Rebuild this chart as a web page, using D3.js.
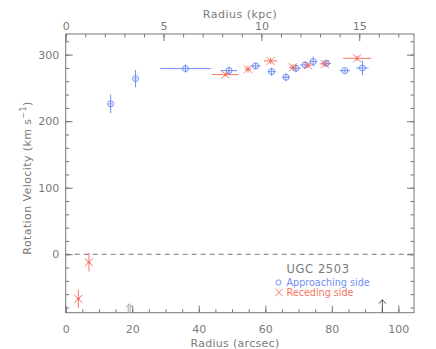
<!DOCTYPE html>
<html>
<head>
<meta charset="utf-8">
<script src="https://cdn.jsdelivr.net/npm/d3@7"></script>
<style>
  body { margin: 0; background: #fff; }
  svg text { font-family: "DejaVu Sans", sans-serif; fill: #7a7a7a; }
</style>
</head>
<body>
<svg id="chart" width="436" height="349"></svg>
<script>
// approaching side (blue circles)
const appR    = [13.5, 21.0, 36.0, 49.1, 57.1, 61.9, 66.2, 69.2, 72.0, 74.4, 78.3, 83.9, 89.2];
const appV    = [226, 264, 279, 276, 283, 274.5, 266, 279.5, 284.5, 289.5, 287, 276, 280];
const appRErr = [0.5, 0.5, 7.6, 2.5, 1.5, 1.2, 1.2, 1.5, 1.5, 1.2, 1.5, 1.5, 1.8];
const appVErr = [14, 13, 6, 6, 5, 6, 6, 6, 5, 7.5, 5, 3, 11];

// receding side (red asterisks)
const recR    = [3.8, 7.0, 48.0, 54.8, 61.6, 68.3, 72.8, 77.9, 87.6];
const recV    = [-67, -12, 270, 278, 290.5, 281, 284, 286, 294.5];
const recRErr = [0.5, 0.5, 4, 1, 2, 1, 1, 1.5, 4.2];
const recVErr = [14, 14, 3, 5, 5, 5, 4, 4, 4];

const kpcPerArcsec = 0.170;
const xTicks = [0, 20, 40, 60, 80, 100];
const kpcTicks = [0, 5, 10, 15];
const yTicks = [0, 100, 200, 300];
const arrowsAt = [19.1, 95.2];

const blue = "#6f8ff5", red = "#f47563", axisCol = "#777";
const fs = 11;

const svg = d3.select("#chart");
const x = d3.scaleLinear().domain([0, 104.7]).range([65.7, 414]);
const xk = d3.scaleLinear().domain([0, 104.7 * kpcPerArcsec]).range([65.7, 414]);
const y = d3.scaleLinear().domain([-87.8, 331]).range([312.7, 34]);

const x0 = x.range()[0], x1 = x.range()[1], y0 = y.range()[0], y1 = y.range()[1];

// frame
svg.append("rect")
  .attr("x", x0).attr("y", y1).attr("width", x1 - x0).attr("height", y0 - y1)
  .attr("fill", "none").attr("stroke", axisCol).attr("stroke-width", 1);

const styleAxis = g => {
  g.select(".domain").remove();
  g.selectAll("line").attr("stroke", axisCol);
  g.selectAll("text").attr("fill", "#7a7a7a").attr("font-size", fs)
    .attr("font-family", "DejaVu Sans, sans-serif");
};

// bottom axis
svg.append("g").attr("transform", `translate(0,${y0})`)
  .call(d3.axisBottom(x).tickValues(d3.range(0, 105, 5)).tickSize(-3.5).tickFormat(""))
  .call(styleAxis);
svg.append("g").attr("transform", `translate(0,${y0})`)
  .call(d3.axisBottom(x).tickValues(xTicks).tickSize(-7).tickPadding(12.5))
  .call(styleAxis);

// top axis (kpc)
svg.append("g").attr("transform", `translate(0,${y1})`)
  .call(d3.axisTop(xk).tickValues(d3.range(0, 18, 1)).tickSize(-3.5).tickFormat(""))
  .call(styleAxis);
svg.append("g").attr("transform", `translate(0,${y1})`)
  .call(d3.axisTop(xk).tickValues(kpcTicks).tickSize(-7).tickPadding(4))
  .call(styleAxis);

// left axis
svg.append("g").attr("transform", `translate(${x0},0)`)
  .call(d3.axisLeft(y).tickValues(d3.range(-80, 331, 20)).tickSize(-3.5).tickFormat(""))
  .call(styleAxis);
svg.append("g").attr("transform", `translate(${x0},0)`)
  .call(d3.axisLeft(y).tickValues(yTicks).tickSize(-7).tickPadding(6.5))
  .call(styleAxis);

// right axis
svg.append("g").attr("transform", `translate(${x1},0)`)
  .call(d3.axisRight(y).tickValues(d3.range(-80, 331, 20)).tickSize(-3.5).tickFormat(""))
  .call(styleAxis);
svg.append("g").attr("transform", `translate(${x1},0)`)
  .call(d3.axisRight(y).tickValues(yTicks).tickSize(-7).tickFormat(""))
  .call(styleAxis);

// zero line
svg.append("line")
  .attr("x1", x0).attr("x2", x1).attr("y1", y(0)).attr("y2", y(0))
  .attr("stroke", axisCol).attr("stroke-dasharray", "5,4");

// axis titles
svg.append("text").attr("x", 240).attr("y", 18).attr("text-anchor", "middle")
  .attr("font-size", fs).attr("letter-spacing", 0.5).text("Radius (kpc)");
svg.append("text").attr("x", 235).attr("y", 346.5).attr("text-anchor", "middle")
  .attr("font-size", fs).attr("letter-spacing", 0.3).text("Radius (arcsec)");
const yt = svg.append("text").attr("transform", `translate(31,178) rotate(-90)`)
  .attr("text-anchor", "middle").attr("font-size", fs).attr("letter-spacing", 0.4);
yt.append("tspan").text("Rotation Velocity (km s");
yt.append("tspan").attr("dy", -5).attr("font-size", 8).text("−1");
yt.append("tspan").attr("dy", 5).text(")");

// arrows
const arrows = svg.append("g");
arrowsAt.forEach((r, i) => {
  const col = i === 0 ? "#aaa" : "#555";
  const g = arrows.append("g").attr("stroke", col).attr("fill", "none");
  const ax = x(r), top = y0 - 9;
  if (i === 0) {
    g.append("line").attr("x1", ax - 1).attr("x2", ax - 1).attr("y1", y0).attr("y2", top + 1);
    g.append("line").attr("x1", ax + 1).attr("x2", ax + 1).attr("y1", y0).attr("y2", top + 1);
  } else {
    g.append("line").attr("x1", ax).attr("x2", ax).attr("y1", y0).attr("y2", top - 4);
  }
  const t = i === 0 ? top : top - 4;
  g.append("path").attr("d", `M${ax - 3.5},${t + 4}L${ax},${t}L${ax + 3.5},${t + 4}`);
});

// error bars
function errorBars(rs, vs, re, ve, col) {
  const g = svg.append("g").attr("stroke", col).attr("stroke-width", 1);
  rs.forEach((r, i) => {
    g.append("line").attr("x1", x(r - re[i])).attr("x2", x(r + re[i]))
      .attr("y1", y(vs[i])).attr("y2", y(vs[i]));
    g.append("line").attr("x1", x(r)).attr("x2", x(r))
      .attr("y1", y(vs[i] - ve[i])).attr("y2", y(vs[i] + ve[i]));
  });
}
errorBars(appR, appV, appRErr, appVErr, blue);
errorBars(recR, recV, recRErr, recVErr, red);

// approaching symbols
svg.append("g").selectAll("circle").data(appR).join("circle")
  .attr("cx", d => x(d)).attr("cy", (d, i) => y(appV[i])).attr("r", 3)
  .attr("fill", "none").attr("stroke", blue);

// receding symbols
const asterisk = (cx, cy, s) =>
  `M${cx - s},${cy - s}L${cx + s},${cy + s}M${cx - s},${cy + s}L${cx + s},${cy - s}`;
const rg = svg.append("g").attr("stroke", red).attr("fill", "none");
rg.selectAll("path").data(recR).join("path")
  .attr("d", (d, i) => asterisk(x(d), y(recV[i]), 4));
svg.append("g").selectAll("circle").data(recR).join("circle")
  .attr("cx", d => x(d)).attr("cy", (d, i) => y(recV[i])).attr("r", 1.2)
  .attr("fill", red);

// legend
svg.append("text").attr("x", 286.5).attr("y", 272.5).attr("font-size", 11.5)
  .attr("letter-spacing", 0.6).text("UGC 2503");
svg.append("circle").attr("cx", 278.5).attr("cy", 282.5).attr("r", 2.6)
  .attr("fill", "none").attr("stroke", blue);
svg.append("text").attr("x", 286.5).attr("y", 286.3).attr("font-size", 9.6)
  .style("fill", blue).text("Approaching side");
svg.append("path").attr("d", asterisk(279, 292.5, 3.8)).attr("stroke", red).attr("fill", "none");
svg.append("text").attr("x", 286.5).attr("y", 296.3).attr("font-size", 9.6)
  .style("fill", red).text("Receding side");
</script>
</body>
</html>
